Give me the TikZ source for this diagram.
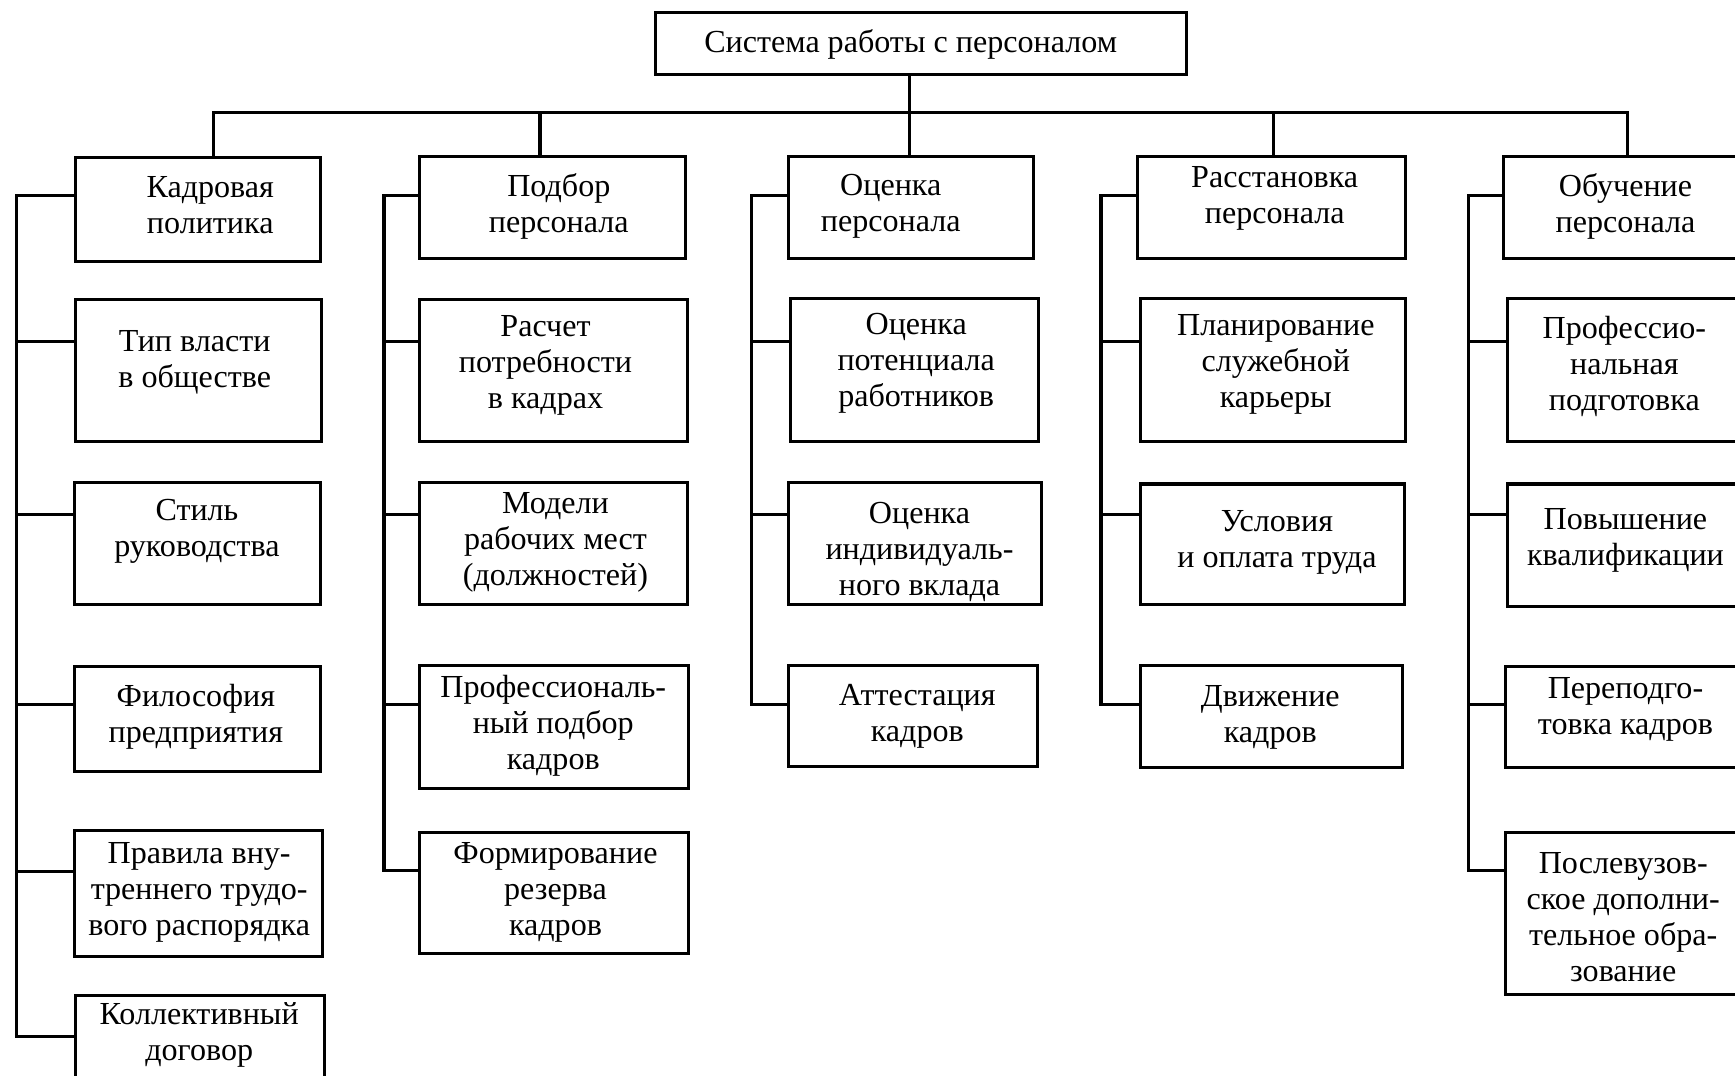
\documentclass[tikz,border=0pt]{standalone}
\usepackage{fontspec}
\setmainfont{Liberation Serif}
\begin{document}
\begin{tikzpicture}[x=1pt,y=-1pt,
  box/.style={draw, line width=2.8pt, anchor=north west, inner sep=0pt, fill=white},
  txt/.style={align=center, font=\fontsize{29}{32.5}\selectfont, inner sep=0pt, yshift=-2.5pt},
  link/.style={line width=2.8pt}]
\useasboundingbox (0,0) rectangle (1568,972);
\fill[white] (0,0) rectangle (1568,972);
\clip (0,0) rectangle (1568,972);

% box: name, x1, y1, x2, y2, text x, text y, text
\newcommand{\mkbox}[8]{%
  \node[box, minimum width={#4-#2}, minimum height={#5-#3}] (#1) at (#2,#3) {};
  \node[txt] (#1t) at (#6,#7) {#8};}
% branch from a column spine to a box: spine x, y, box
\newcommand{\branch}[3]{%
  \coordinate (#3b) at (#1,#2);
  \draw[link] (#3b) -- (#3b -| #3.west);}

% root
\mkbox{top}{591}{10}{1071}{66}{823}{38}{Система работы с персоналом}

% column 1
\mkbox{k0}{67}{141}{288}{235}{190}{183}{Кадровая\\политика}
\mkbox{k1}{67}{269}{289}{398}{176}{325}{Тип власти\\в обществе}
\mkbox{k2}{66}{435}{288}{545}{178}{478}{Стиль\\руководства}
\mkbox{k3}{66}{601}{288}{696}{177}{645}{Философия\\предприятия}
\mkbox{k4}{66}{749}{290}{863}{180}{804}{Правила вну-\\треннего трудо-\\вого распорядка}
\mkbox{k5}{67}{898}{292}{990}{180}{933}{Коллективный\\договор}

% column 2
\mkbox{p0}{378}{140}{618}{232}{505}{184}{Подбор\\персонала}
\mkbox{p1}{378}{269}{620}{398}{493}{328}{Расчет\\потребности\\в кадрах}
\mkbox{p2}{378}{435}{620}{545}{502}{488}{Модели\\рабочих мест\\(должностей)}
\mkbox{p3}{378}{600}{621}{711}{500}{653}{Профессиональ-\\ный подбор\\кадров}
\mkbox{p4}{378}{751}{621}{860}{502}{804}{Формирование\\резерва\\кадров}

% column 3
\mkbox{o0}{711}{140}{933}{232}{805}{184}{Оценка\\персонала}
\mkbox{o1}{713}{268}{937}{398}{828}{326}{Оценка\\потенциала\\работников}
\mkbox{o2}{711}{435}{940}{545}{831}{496}{Оценка\\индивидуаль-\\ного вклада}
\mkbox{o3}{711}{600}{936}{691}{829}{645}{Аттестация\\кадров}

% column 4
\mkbox{r0}{1027}{140}{1269}{232}{1152}{177}{Расстановка\\персонала}
\mkbox{r1}{1029}{268}{1269}{398}{1153}{327}{Планирование\\служебной\\карьеры}
\mkbox{r2}{1029}{436}{1268}{545}{1154}{488}{Условия\\и оплата труда}
\mkbox{r3}{1029}{600}{1266}{692}{1148}{646}{Движение\\кадров}

% column 5
\mkbox{u0}{1357}{140}{1590}{232}{1469}{184}{Обучение\\персонала}
\mkbox{u1}{1361}{268}{1590}{398}{1468}{329}{Профессио-\\нальная\\подготовка}
\mkbox{u2}{1361}{436}{1590}{547}{1469}{486}{Повышение\\квалификации}
\mkbox{u3}{1359}{601}{1590}{692}{1469}{639}{Переподго-\\товка кадров}
\mkbox{u4}{1359}{751}{1590}{897}{1467}{826}{Послевузов-\\ское дополни-\\тельное обра-\\зование}

% root to bus, bus to column heads
\coordinate (hub) at (822,102);
\coordinate (d1) at (193,102);
\coordinate (d2) at (488,102);
\coordinate (d3) at (822,102);
\coordinate (d4) at (1151,102);
\coordinate (d5) at (1471,102);
\draw[link] (hub |- top.south) -- (hub);
\draw[link, line cap=rect] (d1 |- k0.north) -- (d1) -- (d5) -- (d5 |- u0.north);
\foreach \d/\b in {d2/p0, d3/o0, d4/r0}
  \draw[link] (\d) -- (\d |- \b.north);

% column spines
\branch{15}{177}{k0}\branch{15}{309}{k1}\branch{15}{465}{k2}
\branch{15}{637}{k3}\branch{15}{788}{k4}\branch{15}{937}{k5}
\draw[link, line cap=rect] (k0b) -- (k5b);

\branch{347}{177}{p0}\branch{347}{309}{p1}\branch{347}{465}{p2}
\branch{347}{637}{p3}\branch{347}{787}{p4}
\draw[link, line cap=rect] (p0b) -- (p4b);

\branch{679}{177}{o0}\branch{679}{309}{o1}\branch{679}{465}{o2}
\branch{679}{637}{o3}
\draw[link, line cap=rect] (o0b) -- (o3b);

\branch{995}{177}{r0}\branch{995}{309}{r1}\branch{995}{465}{r2}
\branch{995}{637}{r3}
\draw[link, line cap=rect] (r0b) -- (r3b);

\branch{1327}{177}{u0}\branch{1327}{309}{u1}\branch{1327}{465}{u2}
\branch{1327}{637}{u3}\branch{1327}{787}{u4}
\draw[link, line cap=rect] (u0b) -- (u4b);
\end{tikzpicture}
\end{document}
